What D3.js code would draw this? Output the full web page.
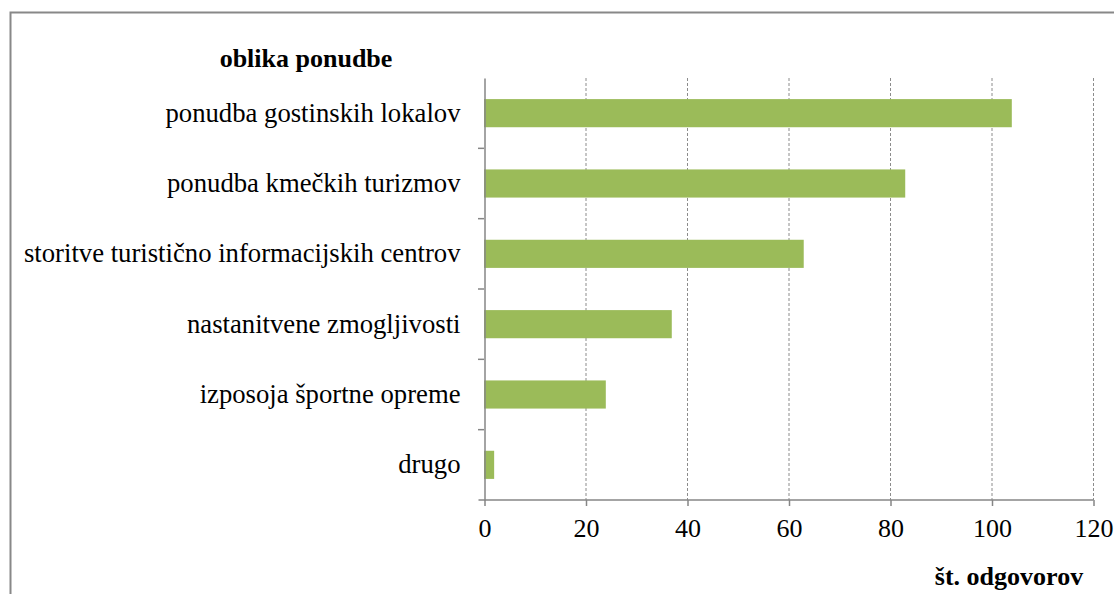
<!DOCTYPE html>
<html><head><meta charset="utf-8">
<script src="https://cdn.jsdelivr.net/npm/d3@7"></script>
<style>body{margin:0;background:#fff;} svg{display:block;} text{font-family:'Liberation Serif','Times New Roman',serif;}</style>
</head><body>
<script>
const categories = ["ponudba gostinskih lokalov","ponudba kmečkih turizmov","storitve turistično informacijskih centrov","nastanitvene zmogljivosti","izposoja športne opreme","drugo"];
const values = [104, 83, 63, 37, 24, 2];
const xTicks = [0, 20, 40, 60, 80, 100, 120];
const yTitle = "oblika ponudbe";
const xTitle = "št. odgovorov";

const W = 1114, H = 594;
const svg = d3.select("body").append("svg").attr("width", W).attr("height", H);
const font = "'Liberation Serif','Times New Roman',serif";
const fs = 26;

svg.append("rect").attr("x", 10.5).attr("y", 12.5).attr("width", 1200).attr("height", 700)
  .attr("fill", "none").attr("stroke", "#888").attr("stroke-width", 2);

const m = {left: 484, right: 1093, top: 78, bottom: 500};
const x = d3.scaleLinear().domain([0, 120]).range([m.left, m.right]);
const y = d3.scaleBand().domain(categories).range([m.top, m.bottom]).paddingInner(0.6).paddingOuter(0.3);
const yb = d3.scaleBand().domain(categories).range([m.top, m.bottom]);

// gridlines
svg.append("g").selectAll("line").data(xTicks.filter(d => d > 0)).join("line")
  .attr("x1", d => x(d)+0.5).attr("x2", d => x(d)+0.5)
  .attr("y1", m.top).attr("y2", m.bottom)
  .attr("stroke", "#8c8c8c").attr("stroke-width", 1).attr("stroke-dasharray", "3,2");

// bars
svg.append("g").selectAll("rect").data(values).join("rect")
  .attr("x", x(0)).attr("y", (d, i) => y(categories[i]))
  .attr("width", d => x(d) - x(0)).attr("height", y.bandwidth())
  .attr("fill", "#9BBB59");

// y axis
const yAxis = d3.axisLeft(yb).tickSize(0).tickPadding(24).tickFormat(d => d);
const gy = svg.append("g").attr("transform", `translate(${m.left+0.5},0)`).call(yAxis)
  .attr("font-family", null).attr("font-size", null);
gy.select(".domain").attr("stroke", "#868686").attr("stroke-width", 1.5);
gy.selectAll("text").style("font-family", font).style("font-size", "26.7px").attr("fill", "#000");
// band boundary ticks
svg.append("g").selectAll("line").data(categories.slice(1)).join("line")
  .attr("x1", m.left - 6).attr("x2", m.left)
  .attr("y1", d => yb(d)).attr("y2", d => yb(d))
  .attr("stroke", "#868686").attr("stroke-width", 1.5);

// x axis
const xAxis = d3.axisBottom(x).tickValues(xTicks).tickSize(6).tickPadding(13).tickSizeOuter(0);
const gx = svg.append("g").attr("transform", `translate(0.5,${m.bottom})`).call(xAxis)
  .attr("font-family", null).attr("font-size", null);
gx.select(".domain").attr("stroke", "#868686").attr("stroke-width", 1.5).attr("d", `M${m.left-6},0H${m.right}`);
gx.selectAll(".tick line").attr("stroke", "#868686").attr("stroke-width", 1.5);
gx.selectAll("text").style("font-family", font).style("font-size", fs + "px").attr("fill", "#000");

svg.append("text").attr("x", 306).attr("y", 67).attr("text-anchor", "middle")
  .style("font-family", font).style("font-size", fs + "px").attr("font-weight", "bold").text(yTitle);
svg.append("text").attr("x", 1009).attr("y", 585).attr("text-anchor", "middle")
  .style("font-family", font).style("font-size", fs + "px").attr("font-weight", "bold").text(xTitle);
</script>
</body></html>
